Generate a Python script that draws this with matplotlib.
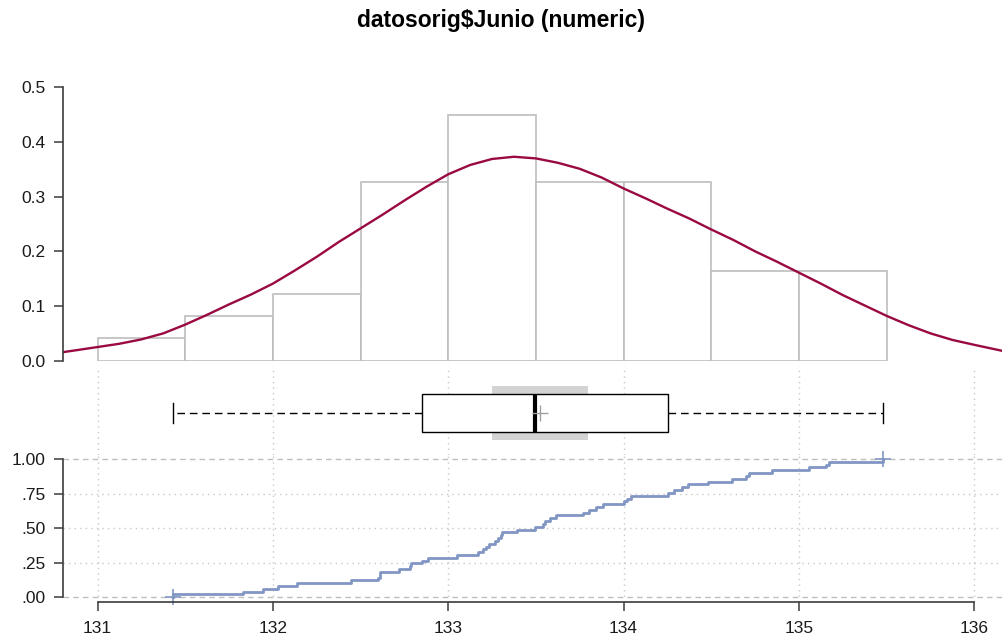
import numpy as np
import matplotlib.pyplot as plt

plt.rcParams['font.family'] = ['Liberation Sans', 'DejaVu Sans']

junio = [131.43, 131.83, 131.945, 132.03, 132.135, 132.445, 132.60, 132.61, 132.61,
         132.72, 132.78, 132.79, 132.85, 132.885, 133.05, 133.17, 133.20, 133.215,
         133.235, 133.265, 133.285, 133.30, 133.305, 133.39, 133.495, 133.54, 133.55,
         133.58, 133.615, 133.77, 133.80, 133.845, 133.88, 134.005, 134.02, 134.04,
         134.255, 134.29, 134.335, 134.37, 134.48, 134.62, 134.70, 134.715, 134.845,
         135.055, 135.155, 135.17, 135.48]
hist_breaks = [131.0, 131.5, 132.0, 132.5, 133.0, 133.5, 134.0, 134.5, 135.0, 135.5]

# density curve
dens_x = [130.8, 130.875, 131.0, 131.125, 131.25, 131.375, 131.5, 131.625, 131.75,
          131.875, 132.0, 132.125, 132.25, 132.375, 132.5, 132.625, 132.75, 132.875,
          133.0, 133.125, 133.25, 133.375, 133.5, 133.625, 133.75, 133.875, 134.0,
          134.125, 134.25, 134.375, 134.5, 134.625, 134.75, 134.875, 135.0, 135.125,
          135.25, 135.375, 135.5, 135.625, 135.75, 135.875, 136.0, 136.16]
dens_y = [0.0155, 0.019, 0.025, 0.031, 0.039, 0.050, 0.066, 0.084, 0.103,
          0.121, 0.141, 0.165, 0.190, 0.217, 0.242, 0.267, 0.293, 0.318,
          0.341, 0.358, 0.369, 0.373, 0.370, 0.362, 0.351, 0.335, 0.315,
          0.297, 0.278, 0.260, 0.240, 0.221, 0.200, 0.181, 0.161, 0.141,
          0.120, 0.101, 0.082, 0.065, 0.050, 0.038, 0.029, 0.018]

median_ci = [133.25, 133.795]

x_ticks = [131, 132, 133, 134, 135, 136]
dens_ticks = [0.0, 0.1, 0.2, 0.3, 0.4, 0.5]
dens_labels = ['0.0', '0.1', '0.2', '0.3', '0.4', '0.5']
ecdf_ticks = [0.0, 0.25, 0.5, 0.75, 1.0]
ecdf_labels = ['.00', '.25', '.50', '.75', '1.00']

W, H = 1002, 637
fig = plt.figure(figsize=(W / 100, H / 100), dpi=100)
xlim = (130.803, 136.158)
axis_col = '#3c3c3c'
grid_col = '#c8c8c8'


def px_axes(top, bottom):
    return fig.add_axes([63 / W, 1 - bottom / H, (W - 63) / W, (bottom - top) / H])


def style(ax):
    for s in ['top', 'right', 'bottom', 'left']:
        ax.spines[s].set_visible(False)
    ax.set_xlim(*xlim)
    ax.set_xticks([])
    ax.set_yticks([])
    ax.patch.set_alpha(0)
    ax.tick_params(length=6.5, width=1.1, pad=6, labelsize=12.5,
                   color=axis_col, labelcolor='#1a1a1a')


# histogram + density
ax1 = px_axes(76.4, 360.7)
style(ax1)
ax1.hist(junio, bins=hist_breaks, density=True, histtype='bar',
         facecolor='white', edgecolor='#bebebe', linewidth=1.2)
ax1.plot(dens_x, dens_y, color='#9A0941', lw=1.7, solid_joinstyle='round')
ax1.set_ylim(0, 0.52)
ax1.spines['left'].set_visible(True)
ax1.spines['left'].set_bounds(0, 0.5)
ax1.spines['left'].set_color(axis_col)
ax1.spines['left'].set_linewidth(1.2)
ax1.set_yticks(dens_ticks)
ax1.set_yticklabels(dens_labels)

# boxplot
ax2 = px_axes(366, 455)
style(ax2)
ax2.set_ylim(-42, 47)
for xv in x_ticks:
    ax2.axvline(xv, color=grid_col, ls=(0, (1, 3)), lw=1, zorder=0)
ax2.barh(0, median_ci[1] - median_ci[0], left=median_ci[0], height=54,
         color='#d3d3d3', zorder=1)
ax2.boxplot(junio, orientation='horizontal', positions=[0], widths=38,
            whis=(0, 100), patch_artist=True, showfliers=False, showmeans=True,
            capwidths=20, zorder=2,
            boxprops=dict(facecolor='white', edgecolor='black', lw=1),
            medianprops=dict(color='black', lw=3),
            whiskerprops=dict(color='black', ls=(0, (5.5, 3.5)), lw=1),
            capprops=dict(color='black', lw=1),
            meanprops=dict(marker='+', markeredgecolor='#a0a0a0',
                           markersize=12, markeredgewidth=1))
ax2.set_xlim(*xlim)
ax2.set_yticks([])

# ECDF
ax3 = px_axes(455, 602.3)
style(ax3)
ax3.set_ylim(-0.036, 1.029)
for xv in x_ticks:
    ax3.axvline(xv, color=grid_col, ls=(0, (1, 3)), lw=1, zorder=0)
for yv in [0.25, 0.5, 0.75]:
    ax3.axhline(yv, color=grid_col, ls=(0, (1, 3)), lw=1, zorder=0)
for yv in [0.0, 1.0]:
    ax3.axhline(yv, color='#bebebe', ls=(0, (4, 3)), lw=1, zorder=0)
xs = np.sort(junio)
ys = np.arange(1, len(xs) + 1) / len(xs)
ax3.step(np.r_[xs[0], xs], np.r_[0, ys], where='post', color='#8296C4', lw=2)
ax3.plot([xs[0], xs[-1]], [0, 1], ls='none', marker='+', color='#8296C4',
         markersize=12, markeredgewidth=1.2, clip_on=False)
ax3.spines['left'].set_visible(True)
ax3.spines['left'].set_bounds(0, 1)
ax3.spines['bottom'].set_visible(True)
ax3.spines['bottom'].set_bounds(131, 136)
for s in ['left', 'bottom']:
    ax3.spines[s].set_color(axis_col)
    ax3.spines[s].set_linewidth(1.2)
ax3.set_yticks(ecdf_ticks)
ax3.set_yticklabels(ecdf_labels)
ax3.set_xticks(x_ticks)
ax3.set_xticklabels([str(t) for t in x_ticks])
ax3.tick_params(axis='x', pad=7)

fig.text(0.5, 1 - 21 / H, 'datosorig$Junio (numeric)', ha='center', va='center',
         fontsize=16.5, fontweight='bold')

fig.savefig('out.png', dpi=100)
